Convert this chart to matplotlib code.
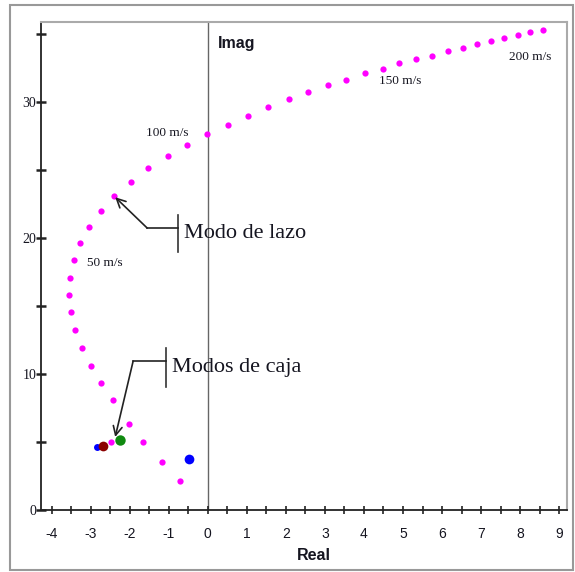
import matplotlib
matplotlib.use('Agg')
import matplotlib.pyplot as plt
from matplotlib.patches import Rectangle
import numpy as np

# Root locus: lazo mode as speed grows (bottom -> 200 m/s)
lazo_real = [-0.71, -1.17, -1.66, -2.01, -2.42, -2.73, -2.99, -3.22, -3.40, -3.50,
             -3.55, -3.53, -3.42, -3.27, -3.04, -2.73, -2.40, -1.96, -1.53, -1.02,
             -0.53, -0.02, 0.52, 1.03, 1.54, 2.08, 2.57, 3.08, 3.54, 4.03,
             4.49, 4.90, 5.33, 5.74, 6.15, 6.54, 6.89, 7.25, 7.58, 7.94,
             8.25, 8.58]
lazo_imag = [2.13, 3.53, 5.00, 6.32, 8.09, 9.34, 10.59, 11.91, 13.24, 14.56,
             15.81, 17.06, 18.38, 19.63, 20.81, 21.99, 23.09, 24.12, 25.15, 26.03,
             26.84, 27.65, 28.31, 28.97, 29.63, 30.22, 30.74, 31.25, 31.62, 32.13,
             32.43, 32.87, 33.16, 33.38, 33.75, 33.97, 34.26, 34.49, 34.71, 34.93,
             35.15, 35.29]

# box modes
extra_real = [-2.48]
extra_imag = [5.00]
caja_real = [-2.83, -2.68, -2.25, -0.48]
caja_imag = [4.63, 4.71, 5.15, 3.75]
caja_colors = ['#0000ff', '#8b0000', '#108a10', '#0000ff']
caja_sizes = [5, 7, 7.5, 7]

speed_labels = ['50 m/s', '100 m/s', '150 m/s', '200 m/s']
speed_pos = [(-3.09, 18.16), (-1.58, 27.72), (4.38, 31.54), (7.71, 33.31)]

serif = 'Liberation Serif'
sans = 'Liberation Sans'
txt = '#151520'

fig = plt.figure(figsize=(5.75, 5.72), dpi=100)
ax = fig.add_axes([41 / 575, 1 - 510 / 572, 526 / 575, 488 / 572])

# outer frame of the picture
fig.patches.append(Rectangle((10 / 575, 2 / 572), 563 / 575, 565 / 572,
                             transform=fig.transFigure, fill=False,
                             edgecolor='#999999', linewidth=1.5))

ax.plot(lazo_real, lazo_imag, 'o', color='#ff00ff', ms=4.5, mec='none', zorder=3)
ax.plot(extra_real, extra_imag, 'o', color='#ff00ff', ms=4.5, mec='none', zorder=3)
for xr, yi, c, s in zip(caja_real, caja_imag, caja_colors, caja_sizes):
    ax.plot(xr, yi, 'o', color=c, ms=s, mec='none', zorder=4)

ax.axvline(0, color='#666666', lw=1, zorder=1)

ax.set_xlim(-4.27, 9.2)
ax.set_ylim(0, 35.9)

for side in ['top', 'right']:
    ax.spines[side].set_color('#aaaaaa')
    ax.spines[side].set_linewidth(1.5)
for side in ['left', 'bottom']:
    ax.spines[side].set_color('#222222')
    ax.spines[side].set_linewidth(1.3)

xt = np.arange(-4, 9.01, 0.5)
ax.set_xticks(xt)
ax.set_xticklabels([str(int(v)) if v == int(v) else '' for v in xt])
ax.set_yticks(np.arange(0, 36, 5))
ax.set_yticklabels(['0', '', '10', '', '20', '', '30', ''])
ax.tick_params(axis='x', direction='inout', length=6, width=1.2, pad=9,
               labelsize=10, labelcolor=txt, colors='#222222')
ax.tick_params(axis='y', direction='inout', length=7, width=1.8, pad=0,
               labelsize=10, labelcolor=txt, colors='#222222')
for lab in ax.get_xticklabels():
    lab.set_fontfamily(sans)
for lab in ax.get_yticklabels():
    lab.set_fontfamily(serif)

ax.text(0.27, 34.3, 'Imag', fontsize=11.5, fontweight='bold', family=sans,
        ha='left', va='center', color=txt)
fig.text(314 / 575, 1 - 556 / 572, 'Real', fontsize=11.5, fontweight='bold',
         family=sans, ha='center', va='center', color=txt)

for lab, (px, py) in zip(speed_labels, speed_pos):
    ax.text(px, py, lab, fontsize=9.5, family=serif, ha='left', va='center', color=txt)

# "Modo de lazo" bracket and arrow
ax.plot([-0.76, -0.76], [18.97, 21.69], color='#333333', lw=1.2)
ax.plot([-1.55, -0.76], [20.74, 20.74], color='#222222', lw=1.2)
ax.annotate('', xy=(-2.37, 23.01), xytext=(-1.55, 20.74),
            arrowprops=dict(arrowstyle='->', color='#222222', lw=1.2,
                            shrinkA=0, shrinkB=0, mutation_scale=16))
ax.text(-0.61, 20.37, 'Modo de lazo', fontsize=16, family=serif,
        ha='left', va='center', color=txt)

# "Modos de caja" bracket and arrow
ax.plot([-1.07, -1.07], [9.04, 11.91], color='#333333', lw=1.2)
ax.plot([-1.91, -1.07], [10.96, 10.96], color='#222222', lw=1.2)
ax.annotate('', xy=(-2.37, 5.37), xytext=(-1.91, 10.96),
            arrowprops=dict(arrowstyle='->', color='#222222', lw=1.2,
                            shrinkA=0, shrinkB=0, mutation_scale=16))
ax.text(-0.91, 10.51, 'Modos de caja', fontsize=16, family=serif,
        ha='left', va='center', color=txt)

fig.savefig('out.png', dpi=100)
plt.close()
